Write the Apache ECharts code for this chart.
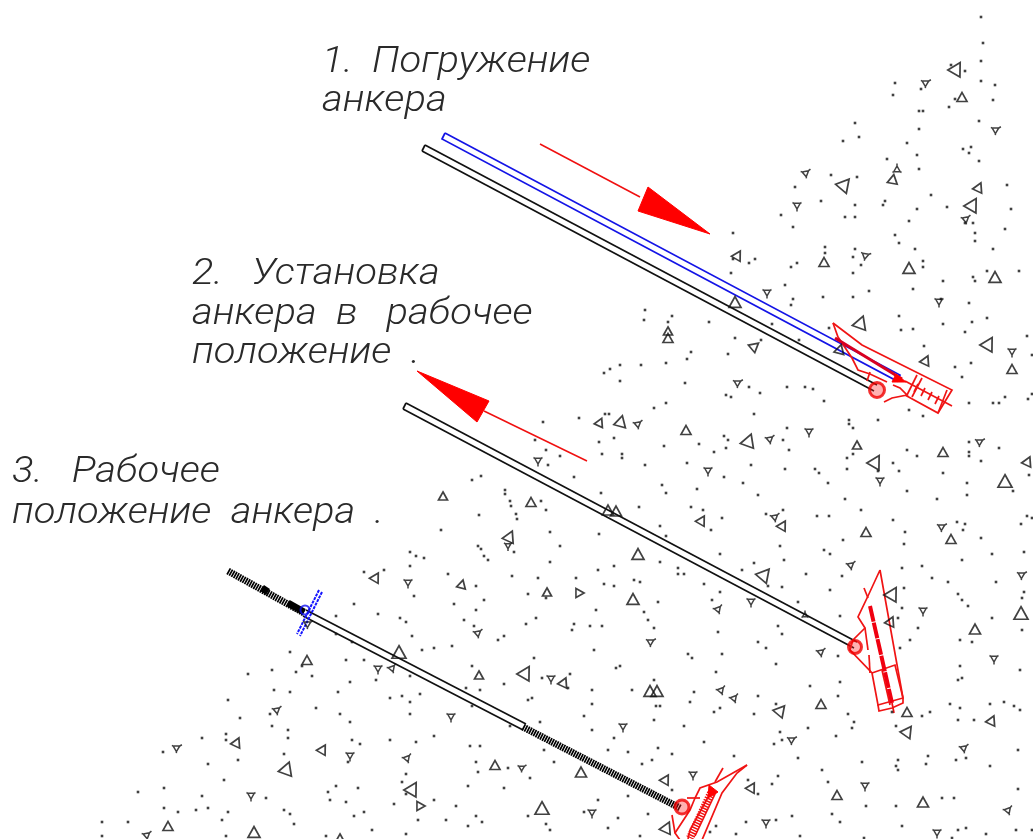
<!DOCTYPE html>
<html><head><meta charset="utf-8">
<style>html,body{margin:0;padding:0;background:#fff}#c{width:1033px;height:839px;filter:blur(0.35px)}</style>
<script src="https://cdn.jsdelivr.net/npm/echarts@6/dist/echarts.min.js"></script></head>
<body><div id="c"></div>
<script>
const captions = [
 [322,44,"1.  Погружение"],[322,83,"анкера"],
 [192,256,"2.   Установка"],[192,296,"анкера  в   рабочее"],[192,335,"положение  ."],
 [12,454,"3.   Рабочее"],[12,495,"положение  анкера  ."]
];
const dotsTopRight = [[981,17],[983,43],[981,61],[981,81],[995,85],[993,100],[895,83],[893,95],[921,89],[951,65],[965,71],[955,99],[949,107],[919,111],[923,111],[919,129],[979,121],[855,123],[859,137],[843,141],[907,143],[963,149],[971,147],[969,153],[917,155],[979,161],[887,159],[919,169],[831,175],[857,177],[795,187],[1007,185],[931,195],[821,201],[855,205],[885,201],[883,205],[917,209],[947,207],[1011,209],[781,215],[845,217],[855,217],[909,221],[793,227],[965,223],[973,223],[1005,229],[975,233],[975,241],[895,235],[899,243],[733,233],[825,247],[825,253],[855,249],[853,257],[915,249],[993,249],[923,261],[923,267],[733,259],[749,263],[755,259],[797,263],[791,267],[861,265],[731,273],[853,273],[987,271],[1019,271],[973,277],[975,281],[943,281],[785,285],[913,289],[869,291],[793,299],[823,297],[853,297],[941,299]];
const dotsMiddle = [[791,305],[969,303],[645,310],[644,320],[672,316],[668,322],[709,322],[899,316],[987,318],[943,324],[972,322],[772,324],[829,328],[901,330],[913,329],[965,332],[735,338],[799,340],[1027,336],[761,340],[924,346],[691,352],[728,354],[687,359],[620,365],[610,369],[604,373],[641,365],[666,363],[620,381],[685,383],[955,367],[971,363],[962,377],[1032,355],[1032,394],[1028,399],[1005,397],[749,387],[760,393],[787,387],[805,387],[813,389],[726,395],[731,397],[824,401],[666,403],[654,408],[969,403],[993,403],[999,403],[909,410],[754,414],[543,422],[579,418],[849,420],[849,424],[853,428],[878,420],[923,416],[605,414],[609,414],[787,428],[724,436],[728,440],[783,440],[614,438],[535,440],[599,442],[699,444],[664,446],[726,448],[969,442],[999,448],[907,450],[546,450],[789,450],[714,452],[622,454],[622,458],[602,454],[560,456],[969,452],[969,456],[853,454],[917,456],[847,458],[981,461],[687,463],[645,465],[548,465],[751,465],[893,463],[815,469],[847,469],[785,469],[819,473],[878,471],[899,471],[943,473],[574,477],[724,477],[1029,475],[743,483],[662,485],[828,483],[967,483],[697,489],[907,491],[1013,491],[505,490],[601,493],[666,493],[758,495],[967,495],[845,499],[937,499],[541,501],[510,501],[691,507],[703,510],[783,510],[546,510],[639,507],[861,510],[516,514],[766,514],[817,516],[829,516],[722,518],[893,520],[1027,516],[1032,518],[1021,524],[957,522],[965,524],[660,526],[963,530],[711,530],[550,532],[905,532],[599,534],[666,536],[981,538],[843,540],[472,480],[481,476],[505,494],[511,506],[479,515],[517,519],[441,530],[481,549]];
const dotsLowerLeft = [[410,552],[416,556],[424,558],[478,546],[484,556],[488,560],[514,552],[410,566],[364,572],[384,570],[448,574],[512,576],[476,586],[414,596],[484,600],[354,604],[454,604],[476,610],[378,614],[336,616],[400,618],[406,622],[464,620],[474,626],[412,636],[336,634],[352,642],[498,640],[504,636],[452,646],[422,650],[434,648],[290,652],[346,660],[364,660],[272,670],[302,666],[296,672],[248,674],[312,676],[472,666],[410,676],[376,680],[350,682],[504,684],[466,688],[480,690],[274,690],[290,692],[338,692],[420,694],[390,698],[402,696],[410,702],[228,700],[472,706],[316,708],[270,714],[340,714],[410,714],[240,718],[350,722],[272,726],[288,730],[510,726],[226,734],[226,740],[202,738],[288,738],[352,740],[360,744],[390,740],[416,742],[434,736],[470,746],[480,746],[284,754],[238,760],[208,764],[348,762],[476,762],[406,774],[478,772],[508,768],[224,780],[402,782],[336,786],[358,788],[164,788],[468,786],[504,788],[138,792],[328,792],[406,794],[202,796],[266,798],[330,800],[346,802],[434,800],[394,804],[456,806],[164,808],[208,808],[178,812],[196,810],[228,812],[284,810],[290,814],[364,812],[354,816],[476,816],[222,820],[418,820],[446,820],[482,822],[102,822],[128,822],[294,824],[468,826],[372,830],[102,836],[226,836],[326,836],[406,834],[163,752]];
const dotsLowerRight = [[560,546],[550,562],[614,566],[598,570],[678,568],[678,574],[684,574],[660,562],[720,554],[780,546],[824,550],[830,554],[904,544],[992,554],[1024,552],[784,560],[962,560],[754,563],[742,570],[806,574],[842,576],[902,568],[922,566],[538,578],[576,578],[634,580],[640,582],[604,584],[614,586],[704,584],[768,586],[782,587],[932,578],[948,582],[996,582],[830,590],[904,588],[720,592],[528,594],[546,598],[958,594],[1024,592],[1022,598],[658,602],[712,600],[798,602],[962,600],[968,606],[596,610],[644,612],[902,608],[840,616],[898,618],[648,620],[536,618],[992,618],[574,624],[572,630],[590,626],[602,626],[526,624],[654,628],[778,626],[718,632],[918,628],[1022,630],[782,634],[960,640],[910,640],[972,642],[758,642],[766,648],[594,650],[900,648],[688,654],[692,658],[722,654],[838,656],[534,658],[776,664],[620,666],[616,668],[960,666],[1020,670],[716,672],[570,674],[542,678],[962,678],[958,680],[654,680],[840,682],[810,686],[568,688],[632,690],[592,690],[694,692],[532,698],[528,700],[758,696],[838,696],[592,704],[656,706],[660,706],[690,702],[776,704],[720,708],[714,712],[754,714],[848,714],[584,716],[892,712],[922,716],[930,712],[950,704],[960,708],[990,704],[1004,702],[1014,706],[1020,710],[654,720],[540,722],[854,722],[958,720],[974,720],[592,730],[684,726],[808,728],[852,728],[896,726],[780,732],[614,738],[782,740],[836,736],[774,744],[704,742],[608,750],[628,752],[658,748],[672,754],[544,750],[734,756],[798,758],[928,756],[898,760],[956,760],[966,758],[1018,750],[862,762],[554,762],[652,760],[642,764],[896,766],[898,770],[926,764],[990,766],[530,778],[822,770],[828,782],[778,776],[772,784],[758,794],[748,780],[672,790],[628,796],[598,800],[942,798],[954,798],[866,806],[584,812],[832,814],[528,816],[648,814],[618,818],[792,816],[776,820],[746,822],[840,822],[546,824],[608,828],[550,830],[716,826],[902,826],[966,828],[958,830],[1016,830],[640,836],[710,832],[736,834],[800,836],[864,838],[952,838],[986,834],[1032,830],[1018,789],[896,806]];
// x, y, size, rotation
const triangles = [[957,68,14,30],[962,97,10,0],[845,184,14,40],[893,179,10,10],[979,187,10,25],[973,204,14,30],[738,255,10,30],[824,262,10,0],[909,268,12,0],[995,277,12,0],[735,302,12,0],[861,322,14,20],[668,331,9,0],[668,338,10,0],[755,346,10,50],[840,349,10,15],[926,360,10,25],[989,343,14,30],[1012,369,10,0],[600,422,9,25],[621,421,12,15],[686,430,10,0],[749,440,14,20],[857,445,9,0],[943,452,10,0],[876,461,14,30],[1028,461,10,25],[1005,481,14,0],[531,502,10,0],[608,510,11,0],[616,511,11,0],[702,520,10,30],[783,525,10,30],[866,532,10,0],[951,539,10,0],[510,536,12,25],[638,554,12,0],[765,574,14,40],[547,592,9,0],[580,593,9,90],[633,599,12,0],[893,593,14,30],[891,621,10,25],[975,629,11,0],[1021,613,14,0],[526,672,14,30],[564,682,10,25],[650,691,12,0],[657,691,12,0],[781,710,12,40],[821,704,10,0],[907,712,10,0],[908,731,12,35],[992,720,10,25],[581,772,11,0],[666,779,10,30],[752,787,10,30],[837,795,10,0],[923,802,11,0],[542,808,14,0],[667,827,12,25],[376,577,10,30],[462,584,9,15],[399,652,14,0],[307,660,10,0],[479,675,9,0],[237,742,10,25],[323,749,10,30],[495,765,10,0],[287,768,14,20],[413,788,14,30],[421,806,9,90],[168,826,10,0],[254,832,12,0],[340,838,9,0],[443,496,9,0]];
const starTriangles = [[927,82,9,60],[997,129,9,60],[807,172,9,50],[897,168,9,0],[797,207,9,180],[967,218,9,50],[867,255,9,70],[767,294,9,180],[939,303,9,180],[1012,353,9,180],[739,382,9,60],[639,423,9,50],[771,438,9,50],[809,433,9,180],[981,441,9,60],[538,462,9,180],[708,472,9,180],[880,482,9,180],[776,516,9,50],[943,526,9,60],[508,547,8,180],[852,564,9,50],[719,608,9,40],[751,603,9,180],[923,612,9,180],[1023,574,9,60],[805,614,7,0],[652,641,9,60],[822,651,9,50],[994,660,9,180],[551,680,9,180],[722,689,9,40],[735,697,9,40],[623,728,9,180],[793,739,9,60],[965,747,9,50],[523,767,8,60],[693,776,9,180],[865,787,9,180],[592,814,9,180],[1009,809,9,40],[766,824,9,180],[937,834,9,180],[408,584,9,180],[479,632,9,50],[309,623,9,60],[378,670,9,180],[393,667,9,40],[451,718,9,180],[278,709,9,50],[178,747,9,60],[350,757,9,180],[408,757,9,40],[251,797,9,180],[148,834,9,50]];
const blueRod = [[[445,133],[900,375],[897,381],[442,139],[445,133]]];
const blueCross = [[[322,592],[300,636]],[[319,590],[297,634]]];
const blackRods = [
 [[425,145],[877,385]],[[422,151],[874,391]],[[425,145],[422,151]],
 [[406,403],[857,642]],[[403,409],[854,648]],[[406,403],[403,409]],
 [[306,610],[526,724]],[[303,616],[523,730]]
];
const threadedRods = [[[228,571],[304,613]],[[523,727],[680,808]]];
const threadNodes = [[[262,588],[268,592]],[[288,603],[304,612]]];
const redThinLines = [[[540,144],[640,197]],[[587,461],[484,411]]];
const redHeads = [
 [[710,234],[648,187],[638,211]],
 [[417,371],[489,401],[477,422]]
];
const redAnchors = [
 // anchor 1
 [[833,323],[862,345],[952,390],[938,413],[905,395]],
 [[833,323],[838,337],[852,358],[858,370],[870,374],[887,382]],
 [[893,385],[900,388],[907,395],[892,398],[884,402]],
 [[870,372],[867,381]],[[917,375],[907,395]],[[922,378],[912,397]],
 [[947,390],[938,413]],[[905,381],[952,406]],
 [[918,384],[914,392]],[[925,388],[921,396]],[[932,392],[928,400]],[[939,396],[935,404]],
 // anchor 2
 [[880,570],[903,698],[878,705],[872,673],[850,650],[853,640],[865,628],[858,617],[868,596],[880,570]],
 [[864,588],[868,598]],[[865,628],[868,650]],[[869,655],[870,673]],
 [[872,673],[895,665],[903,698]],[[882,670],[890,705]],
 [[878,705],[879,711],[892,708],[903,703],[903,698]],
 // anchor 3
 [[747,765],[737,773],[722,793],[702,840]],[[747,765],[717,782],[700,788],[695,798],[690,810],[675,833],[680,840]],
 [[723,768],[715,782]],[[672,815],[675,833]],[[687,798],[700,798]],
 [[712,790],[690,830]],[[716,792],[695,836]],[[690,830],[688,839]]
];
const redBars = [[[835,338],[902,379]]];
const redThickBars = [[[870,606],[892,703]]];
const redBarTails = [[[892,703],[894,713]]];
const redHatchBars = [[[711,793],[690,838]]];
const redSmallHeads = [[[906,382],[896,374],[892,382]],[[709,785],[718,792],[708,798]]];
const redPins = [[877,390,15],[855,647,13],[682,807,14]];

const lineSeries = (data, color, width, dash) => ({
  type:'lines', coordinateSystem:'cartesian2d', polyline:true, silent:true,
  data:data.map(c=>({coords:c})), effect:{show:false},
  lineStyle:{color:color,width:width,opacity:1,curveness:0,type:dash||'solid'}
});
const dotSeries = (data) => ({type:'scatter',data:data,symbol:'rect',symbolSize:2.6,silent:true,itemStyle:{color:'#111'}});
const starPath = 'path://M0,8L10,8L5,1ZM5,1L5,-2M0,8L-2,9M10,8L12,9';

const chart = echarts.init(document.getElementById('c'));
chart.setOption({
  animation:false, backgroundColor:'#fff',
  grid:{left:0,right:0,top:0,bottom:0},
  xAxis:{type:'value',min:0,max:1033,show:false},
  yAxis:{type:'value',min:0,max:839,inverse:true,show:false},
  series:[
    dotSeries(dotsTopRight),dotSeries(dotsMiddle),dotSeries(dotsLowerLeft),dotSeries(dotsLowerRight),
    {type:'scatter',data:triangles,symbol:'triangle',silent:true,symbolSize:v=>[v[2],v[2]*0.9],symbolRotate:v=>-v[3],
     itemStyle:{color:'transparent',borderColor:'#111',borderWidth:1.7}},
    {type:'scatter',data:starTriangles,symbol:starPath,silent:true,symbolSize:v=>[v[2],v[2]],symbolRotate:v=>-v[3],
     itemStyle:{color:'transparent',borderColor:'#111',borderWidth:1.5}},
    {type:'scatter',data:redPins,symbol:'circle',silent:true,symbolSize:v=>v[2],
     itemStyle:{color:'rgba(255,40,40,0.45)',borderColor:'#f00000',borderWidth:3}},
    lineSeries(blackRods,'#111',1.7),
    lineSeries(threadedRods,'#000',7,[1.7,0.8]),
    lineSeries(threadNodes,'#000',7),
    lineSeries(blueRod,'#1414e6',1.7),
    lineSeries(blueCross,'#1414ff',2,[3,1]),
    lineSeries(redThinLines,'#f01010',1.5),
    lineSeries(redAnchors,'#f01414',1.7),
    lineSeries(redBars,'#d80020',3),
    lineSeries(redThickBars,'#f00010',4,[16,1]),
    lineSeries(redBarTails,'#f01010',1.7),
    lineSeries(redHatchBars,'#f01010',8,[1.5,1.2]),
    {type:'custom',coordinateSystem:'cartesian2d',silent:true,data:redHeads.concat(redSmallHeads).map(p=>p[0]),
     renderItem:(params,api)=>{
       const pts=redHeads.concat(redSmallHeads)[params.dataIndex];
       return {type:'polygon',shape:{points:pts.map(q=>api.coord(q))},style:{fill:'#ff0000',stroke:'#ff0000'}};
     }},
    {type:'scatter',data:[[305,610,9]],symbol:'circle',silent:true,symbolSize:v=>v[2],
     itemStyle:{color:'transparent',borderColor:'#1010f0',borderWidth:2}},
    {type:'custom',coordinateSystem:'cartesian2d',silent:true,data:captions.map(c=>[c[0],c[1]]),
     renderItem:(params,api)=>{
       const c=captions[params.dataIndex], p=api.coord([c[0],c[1]]);
       return {type:'text',x:p[0],y:p[1],scaleX:1.08,style:{text:c[2],x:0,y:0,fill:'#2a2a2a',textAlign:'left',
         font:'italic 300 37px Roboto'}};
     }}
  ]
});
</script></body></html>
